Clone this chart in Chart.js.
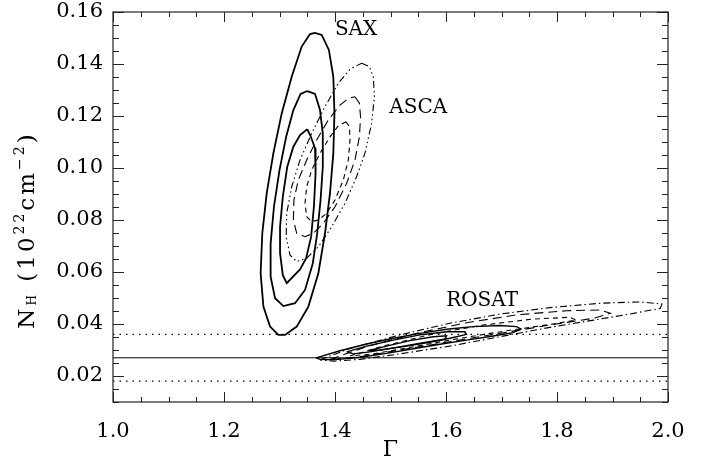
<!DOCTYPE html>
<html><head><meta charset="utf-8">
<script src="https://cdn.jsdelivr.net/npm/chart.js@4.4.0/dist/chart.umd.min.js"></script>
<style>html,body{margin:0;padding:0;background:#fff;}</style>
</head><body>
<canvas id="c" width="702" height="463"></canvas>
<script>
// ---- axis ticks ----
const xTickValues = [1.0, 1.2, 1.4, 1.6, 1.8, 2.0];
const xTickLabels = ['1.0', '1.2', '1.4', '1.6', '1.8', '2.0'];
const yTickValues = [0.02, 0.04, 0.06, 0.08, 0.10, 0.12, 0.14, 0.16];
const yTickLabels = ['0.02', '0.04', '0.06', '0.08', '0.10', '0.12', '0.14', '0.16'];

// ---- contour vertices [Gamma, NH] ----
const saxOuter = [[1.364,0.1520],[1.376,0.1512],[1.389,0.1454],[1.397,0.1351],[1.399,0.1210],[1.397,0.1057],[1.391,0.0903],[1.382,0.0749],[1.370,0.0595],[1.352,0.0467],[1.331,0.0390],[1.310,0.0358],[1.298,0.0358],[1.283,0.0390],[1.271,0.0467],[1.266,0.0595],[1.269,0.0749],[1.277,0.0903],[1.289,0.1057],[1.304,0.1210],[1.322,0.1351],[1.340,0.1467],[1.355,0.1515]];
const saxMiddle = [[1.350,0.1296],[1.364,0.1285],[1.373,0.1223],[1.378,0.1133],[1.378,0.1005],[1.374,0.0877],[1.368,0.0749],[1.360,0.0633],[1.346,0.0531],[1.328,0.0480],[1.307,0.0469],[1.292,0.0499],[1.284,0.0582],[1.284,0.0710],[1.290,0.0851],[1.300,0.0992],[1.312,0.1120],[1.325,0.1223],[1.338,0.1285]];
const saxInner = [[1.350,0.1149],[1.356,0.1123],[1.364,0.1076],[1.365,0.0980],[1.362,0.0851],[1.357,0.0736],[1.348,0.0653],[1.337,0.0610],[1.313,0.0557],[1.306,0.0588],[1.301,0.0672],[1.301,0.0774],[1.306,0.0890],[1.314,0.1005],[1.325,0.1082],[1.337,0.1127]];

const ascaOuter = [[1.448,0.1403],[1.462,0.1390],[1.469,0.1351],[1.471,0.1274],[1.466,0.1172],[1.454,0.1057],[1.439,0.0967],[1.418,0.0864],[1.394,0.0774],[1.370,0.0697],[1.349,0.0653],[1.331,0.0640],[1.319,0.0665],[1.312,0.0736],[1.313,0.0826],[1.322,0.0928],[1.337,0.1031],[1.358,0.1133],[1.382,0.1236],[1.406,0.1326],[1.427,0.1380]];
const ascaMiddle = [[1.436,0.1274],[1.444,0.1249],[1.446,0.1197],[1.444,0.1120],[1.436,0.1031],[1.421,0.0941],[1.400,0.0851],[1.379,0.0787],[1.361,0.0749],[1.346,0.0736],[1.331,0.0749],[1.325,0.0800],[1.326,0.0877],[1.334,0.0954],[1.349,0.1031],[1.367,0.1108],[1.388,0.1185],[1.409,0.1242],[1.424,0.1268]];
const ascaInner = [[1.420,0.1178],[1.426,0.1159],[1.427,0.1108],[1.424,0.1031],[1.415,0.0954],[1.400,0.0877],[1.385,0.0826],[1.370,0.0800],[1.358,0.0794],[1.349,0.0813],[1.346,0.0864],[1.349,0.0928],[1.358,0.0992],[1.373,0.1057],[1.391,0.1120],[1.406,0.1162]];

const rosatSolidOuter = [[1.366,0.0270],[1.409,0.0297],[1.457,0.0323],[1.505,0.0345],[1.553,0.0364],[1.601,0.0380],[1.649,0.0390],[1.697,0.0394],[1.727,0.0390],[1.735,0.0381],[1.721,0.0367],[1.685,0.0354],[1.637,0.0338],[1.589,0.0322],[1.541,0.0305],[1.493,0.0287],[1.445,0.0272],[1.397,0.0262],[1.373,0.0264]];
const rosatSolidMiddle = [[1.421,0.0293],[1.457,0.0315],[1.505,0.0338],[1.553,0.0358],[1.601,0.0370],[1.634,0.0370],[1.637,0.0360],[1.607,0.0345],[1.559,0.0328],[1.511,0.0310],[1.463,0.0293],[1.433,0.0285]];
const rosatSolidInner = [[1.460,0.0297],[1.493,0.0315],[1.535,0.0336],[1.577,0.0351],[1.601,0.0355],[1.598,0.0341],[1.565,0.0328],[1.523,0.0313],[1.481,0.0300]];
const rosatDashOuter = [[1.373,0.0262],[1.427,0.0306],[1.517,0.0358],[1.607,0.0403],[1.697,0.0438],[1.787,0.0463],[1.878,0.0480],[1.950,0.0485],[1.989,0.0477],[1.986,0.0460],[1.938,0.0441],[1.866,0.0415],[1.787,0.0387],[1.697,0.0351],[1.607,0.0315],[1.517,0.0285],[1.445,0.0264],[1.397,0.0257]];
const rosatDashMiddle = [[1.391,0.0264],[1.457,0.0313],[1.547,0.0364],[1.637,0.0405],[1.727,0.0435],[1.817,0.0451],[1.878,0.0454],[1.896,0.0441],[1.866,0.0422],[1.787,0.0396],[1.697,0.0364],[1.607,0.0332],[1.517,0.0300],[1.439,0.0272]];
const rosatDashInner = [[1.427,0.0277],[1.487,0.0315],[1.577,0.0362],[1.667,0.0396],[1.757,0.0419],[1.823,0.0426],[1.835,0.0415],[1.793,0.0400],[1.709,0.0374],[1.625,0.0345],[1.535,0.0310],[1.469,0.0285]];

// ---- horizontal reference lines (NH values) ----
const nhGalactic = 0.027;
const nhBand = [0.018, 0.036];

// ---- text labels ----
const noteTexts = ['SAX', 'ASCA', 'ROSAT'];
const noteGamma = [1.438, 1.550, 1.665];
const noteNH = [0.1531, 0.1231, 0.0488];

const FONT = "'DejaVu Serif', 'Liberation Serif', serif";

function closed(arr) {
  const pts = arr.map(p => ({x: p[0], y: p[1]}));
  pts.push({x: arr[0][0], y: arr[0][1]});
  return pts;
}
function contour(arr, width, dash) {
  return {data: closed(arr), showLine: true, pointRadius: 0, borderColor: '#000',
          borderWidth: width, borderDash: dash, fill: false, tension: 0};
}
function hline(v, width, dash) {
  return {data: [{x: xTickValues[0], y: v}, {x: xTickValues[xTickValues.length - 1], y: v}],
          showLine: true, pointRadius: 0, borderColor: '#000', borderWidth: width,
          borderDash: dash, fill: false, tension: 0};
}

const datasets = [
  hline(nhGalactic, 1, []),
  hline(nhBand[0], 1.2, [1.5, 5]),
  hline(nhBand[1], 1.2, [1.5, 5]),
  contour(saxOuter, 1.8, []),
  contour(saxMiddle, 1.8, []),
  contour(saxInner, 1.8, []),
  contour(ascaOuter, 1.1, [7, 3, 1.5, 3, 1.5, 3, 1.5, 3]),
  contour(ascaMiddle, 1.1, [9, 5]),
  contour(ascaInner, 1.1, [5, 4]),
  contour(rosatSolidOuter, 1.4, []),
  contour(rosatSolidMiddle, 1.4, []),
  contour(rosatSolidInner, 1.4, []),
  contour(rosatDashOuter, 1.1, [7, 3, 1.5, 3]),
  contour(rosatDashMiddle, 1.1, [9, 5]),
  contour(rosatDashInner, 1.1, [5, 4])
];

const framePlugin = {
  id: 'frame',
  afterDatasetsDraw(chart) {
    const {ctx, chartArea: {left, right, top, bottom}, scales: {x, y}} = chart;
    ctx.save();
    ctx.strokeStyle = '#333';
    ctx.lineWidth = 1.3;
    ctx.strokeRect(left, top, right - left, bottom - top);
    ctx.lineWidth = 1;
    ctx.strokeStyle = '#222';
    ctx.beginPath();
    for (let i = 0; i <= 20; i++) {
      const v = xTickValues[0] + i * 0.05;
      const px = Math.round(x.getPixelForValue(v)) + 0.5;
      const len = (i % 4 === 0) ? 10 : 5;
      ctx.moveTo(px, bottom); ctx.lineTo(px, bottom - len);
      ctx.moveTo(px, top); ctx.lineTo(px, top + len);
    }
    for (let i = 0; i <= 30; i++) {
      const v = 0.01 + i * 0.005;
      const py = Math.round(y.getPixelForValue(v)) + 0.5;
      const major = Math.abs((v / 0.02) - Math.round(v / 0.02)) < 1e-6;
      const len = major ? 11 : 6;
      ctx.moveTo(left, py); ctx.lineTo(left + len, py);
      ctx.moveTo(right, py); ctx.lineTo(right - len, py);
    }
    ctx.stroke();

    ctx.fillStyle = '#000';
    ctx.font = "20px " + FONT;
    ctx.textAlign = 'center';
    ctx.textBaseline = 'middle';
    noteTexts.forEach((t, i) => {
      ctx.fillText(t, x.getPixelForValue(noteGamma[i]), y.getPixelForValue(noteNH[i]));
    });

    // y-axis title: N_H (10^22 cm^-2)
    const pieces = [
      {t: 'N', s: 23, dy: 0},
      {t: 'H', s: 12, dy: 2},
      {t: ' (', s: 23, dy: 0},
      {t: '10', s: 23, dy: 0},
      {t: '22', s: 14, dy: -10},
      {t: 'cm', s: 23, dy: 0},
      {t: '\u22122', s: 14, dy: -10},
      {t: ')', s: 23, dy: 0}
    ];
    ctx.save();
    ctx.letterSpacing = '3px';
    let total = 0;
    pieces.forEach(p => { ctx.font = p.s + 'px ' + FONT; p.w = ctx.measureText(p.t).width; total += p.w; });
    const cx = 28, cy = 230;
    ctx.translate(cx, cy);
    ctx.rotate(-Math.PI / 2);
    ctx.textAlign = 'left';
    ctx.textBaseline = 'alphabetic';
    let xx = -total / 2;
    pieces.forEach(p => {
      ctx.font = p.s + 'px ' + FONT;
      ctx.fillText(p.t, xx, 6 + p.dy);
      xx += p.w;
    });
    ctx.restore();
    ctx.restore();
  }
};

new Chart(document.getElementById('c'), {
  type: 'scatter',
  data: {datasets},
  options: {
    responsive: false,
    animation: false,
    devicePixelRatio: 1,
    layout: {padding: {left: 0, right: 34, top: 12, bottom: 0}},
    plugins: {legend: {display: false}, tooltip: {enabled: false}},
    scales: {
      x: {
        type: 'linear', min: 1.0, max: 2.0,
        grid: {display: false, drawTicks: false},
        border: {display: false},
        afterBuildTicks: s => { s.ticks = xTickValues.map(v => ({value: v})); },
        afterFit: s => { s.height = 61; s.paddingLeft = 0; s.paddingRight = 0; },
        ticks: {
          padding: 17, maxRotation: 0, autoSkip: false, color: '#000',
          font: {family: FONT, size: 21},
          callback: (v) => { const i = xTickValues.findIndex(t => Math.abs(t - v) < 1e-9); return i >= 0 ? xTickLabels[i] : ''; }
        },
        title: {display: true, text: '\u0393', color: '#000', font: {family: FONT, size: 22}, padding: {top: 0, bottom: 0}}
      },
      y: {
        type: 'linear', min: 0.01, max: 0.16,
        grid: {display: false, drawTicks: false},
        border: {display: false},
        afterBuildTicks: s => { s.ticks = yTickValues.map(v => ({value: v})); },
        afterFit: s => { s.width = 113; s.paddingTop = 0; s.paddingBottom = 0; },
        ticks: {
          padding: 10, autoSkip: false, color: '#000',
          font: {family: FONT, size: 21},
          callback: (v) => { const i = yTickValues.findIndex(t => Math.abs(t - v) < 1e-9); return i >= 0 ? yTickLabels[i] : ''; }
        }
      }
    }
  },
  plugins: [framePlugin]
});
</script>
</body></html>
